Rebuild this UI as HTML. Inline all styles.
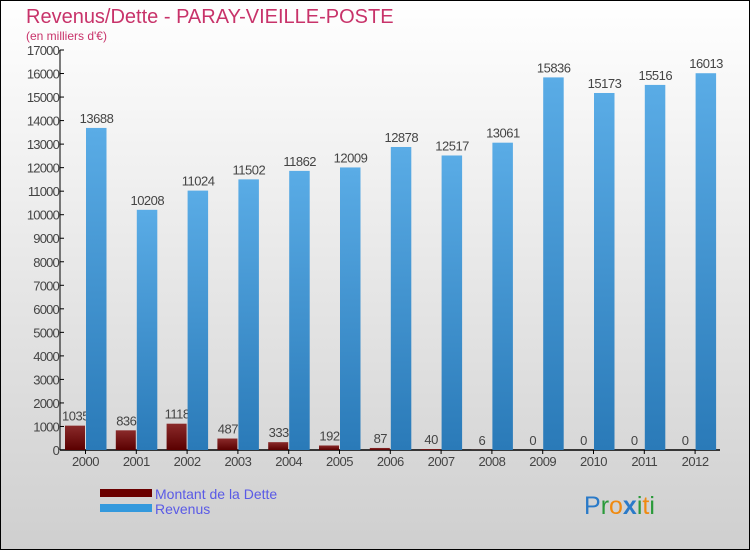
<!DOCTYPE html>
<html><head><meta charset="utf-8"><style>
body{margin:0}
svg{display:block;font-family:"Liberation Sans",sans-serif}
</style></head><body>
<svg width="750" height="550" viewBox="0 0 750 550">
<defs>
<linearGradient id="bg" x1="0" y1="0" x2="0" y2="1"><stop offset="0" stop-color="#ffffff"/><stop offset="1" stop-color="#cfcfcf"/></linearGradient>
<linearGradient id="rev" x1="0" y1="0" x2="0" y2="1"><stop offset="0" stop-color="#5aace6"/><stop offset="1" stop-color="#2a7ab8"/></linearGradient>
<linearGradient id="debt" x1="0" y1="0" x2="0" y2="1"><stop offset="0" stop-color="#8a2a2a"/><stop offset="1" stop-color="#5a0000"/></linearGradient>
</defs>
<rect x="0.5" y="0.5" width="749" height="549" fill="url(#bg)" stroke="#000"/>
<text x="26" y="23" font-size="20" fill="#c8336a">Revenus/Dette - PARAY-VIEILLE-POSTE</text>
<text x="26" y="40" font-size="12" fill="#c8336a">(en milliers d'€)</text>
<g id="axes"></g>
<g id="bars"></g>
<g>
<rect x="100" y="489" width="52" height="8" fill="#6a0000"/>
<text x="155" y="499" font-size="14" fill="#5a5ae6">Montant de la Dette</text>
<rect x="100" y="504" width="52" height="8" fill="#3399dd"/>
<text x="155" y="514" font-size="14" fill="#5a5ae6">Revenus</text>
</g>
<text x="584" y="514" font-size="25"><tspan fill="#2a7ac8">P</tspan><tspan fill="#2a9a3a">r</tspan><tspan fill="#f08a10">o</tspan><tspan fill="#2a7ac8" font-weight="bold">x</tspan><tspan fill="#2a9a3a">i</tspan><tspan fill="#f08a10">t</tspan><tspan fill="#2a9a3a">i</tspan></text>
</svg>
<script>
const years=["2000","2001","2002","2003","2004","2005","2006","2007","2008","2009","2010","2011","2012"];
const debt=[1035,836,1118,487,333,192,87,40,6,0,0,0,0];
const revenue=[13688,10208,11024,11502,11862,12009,12878,12517,13061,15836,15173,15516,16013];
const yTicks=[0,1000,2000,3000,4000,5000,6000,7000,8000,9000,10000,11000,12000,13000,14000,15000,16000,17000];
const NS="http://www.w3.org/2000/svg";
const y=v=>450-v*400/17000;
const x=i=>85.5+i*50.8;
function mk(t,a,p){const e=document.createElementNS(NS,t);for(const k in a)e.setAttribute(k,a[k]);p.appendChild(e);return e;}
const ax=document.getElementById('axes'),bg=document.getElementById('bars');
const yl=mk('line',{x1:60,y1:50,x2:60,y2:450,stroke:'#000'},ax);


const xl=mk('line',{x1:60,y1:450,x2:720,y2:450,stroke:'#000','stroke-width':1.5},ax);


yTicks.forEach(v=>{
 mk('line',{x1:60,y1:y(v),x2:64,y2:y(v),stroke:'#000'},ax);
 const t=mk('text',{x:59,y:y(v)+5,'font-size':13,fill:'#444','text-anchor':'end','letter-spacing':'-0.8'},ax);
 t.textContent=v;
 
 
});
years.forEach((yr,i)=>{
 const cx=x(i);
 mk('line',{x1:cx,y1:450,x2:cx,y2:454,stroke:'#000'},ax);
 const t=mk('text',{x:cx,y:466,'font-size':13,fill:'#444','text-anchor':'middle','letter-spacing':'-0.5'},ax);
 t.textContent=yr;
 
 
 const d=mk('rect',{x:cx-20.5,y:y(debt[i]),width:20,height:450-y(debt[i]),fill:'url(#debt)'},bg);
 
 
 const dl=mk('text',{x:cx-10,y:y(debt[i])-5,'font-size':13,fill:'#444','text-anchor':'middle','letter-spacing':'-0.5'},bg);
 dl.textContent=debt[i];
 
 
 const r=mk('rect',{x:cx+0.5,y:y(revenue[i]),width:20.5,height:450-y(revenue[i]),fill:'url(#rev)'},bg);
 
 
 const rl=mk('text',{x:cx+11,y:y(revenue[i])-5,'font-size':13,fill:'#444','text-anchor':'middle','letter-spacing':'-0.5'},bg);
 rl.textContent=revenue[i];
 
 
});
</script>
</body></html>
